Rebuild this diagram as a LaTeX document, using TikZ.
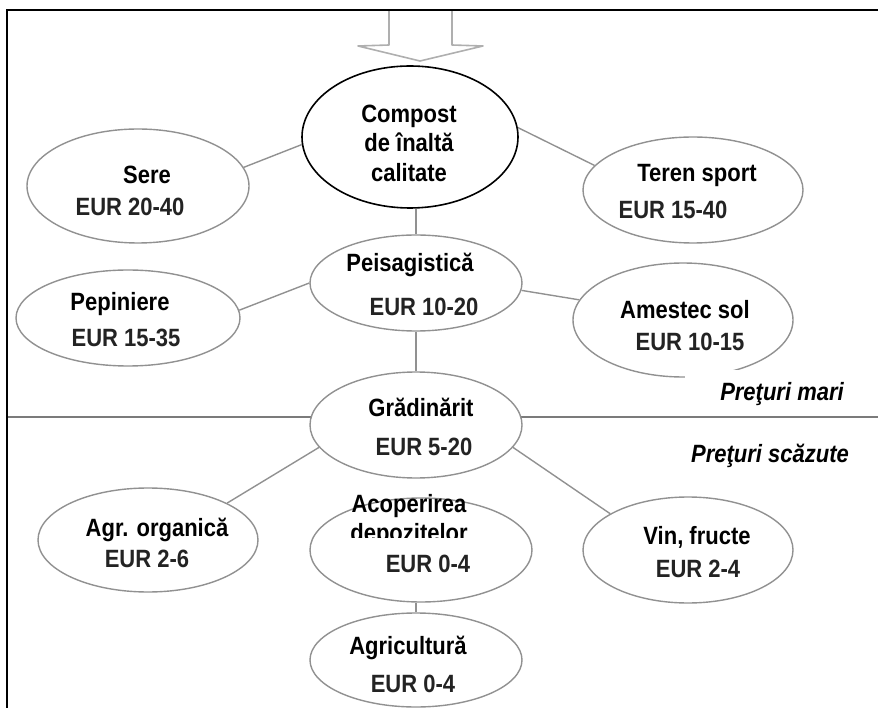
\documentclass[tikz,border=0pt]{standalone}
\usepackage{fontspec}
\setmainfont{Liberation Sans}[FakeStretch=0.88]
\usetikzlibrary{shapes.geometric}
\definecolor{rimgray}{RGB}{145,145,145}
\definecolor{arrowgray}{RGB}{175,175,175}
\definecolor{pricegray}{RGB}{35,35,35}
\begin{document}
\begin{tikzpicture}[x=1pt,y=-1pt,
    font=\fontsize{25}{29.5}\selectfont\bfseries,
    market/.style={ellipse,draw=rimgray,line width=1.4pt,fill=white,inner sep=0pt},
    link/.style={rimgray,line width=1.4pt},
    txt/.style={inner sep=0pt,text height=18pt,text depth=0pt},
    eur/.style={txt,text=pricegray},
    zone/.style={txt,font=\fontsize{25}{29.5}\selectfont\bfseries\itshape}]
  \useasboundingbox (0,0) rectangle (878,708);
  % Divider between price classes
  \draw[rimgray!85!black,line width=1.5pt] (7,417) -- (878,417);
  % Markets
  \foreach \n/\x/\y/\w/\h in {
    sere/138/186/222pt/114pt, teren/693/190/220pt/106pt,
    peis/416/283/212pt/96pt, pepin/128/318/224pt/96pt,
    amestec/683/320/220pt/114pt, grad/416/425/212pt/106pt,
    agrorg/148/540/220pt/104pt, acop/421/550/222pt/104pt,
    vin/688/550/210pt/106pt, agri/416/660/212pt/94pt}
    \node[market,minimum width=\w,minimum height=\h] (\n) at (\x,\y) {};
  \node[market,draw=black,line width=1.6pt,minimum width=216pt,minimum height=142pt]
    (compost) at (410,137) {};
  % Links
  \draw[link] (compost.184) -- (sere.10);
  \draw[link] (compost.5) -- (teren.166);
  \draw[link] (compost.south -| peis.north) -- (peis.north);
  \draw[link] (peis.180) -- (pepin.4);
  \draw[link] (peis.356) -- (amestec.169);
  \draw[link] (peis.south) -- (grad.north);
  \draw[link] (grad.193) -- (agrorg.25);
  \draw[link] (grad.347) -- (vin.155);
  \draw[link] (acop.south -| agri.north) -- (agri.north);
  % Texts
  \node[align=center,inner sep=0pt] (compostName) at (409,143) {Compost\\de înaltă\\calitate};
  \node[txt] (sereName) at (147,175) {Sere};
  \node[eur] (serePrice) at (130,207) {EUR 20-40};
  \node[txt] (terenName) at (697,173) {Teren sport};
  \node[eur] (terenPrice) at (673,210) {EUR 15-40};
  \node[txt] (peisName) at (410,263) {Peisagistică};
  \node[eur] (peisPrice) at (424,307) {EUR 10-20};
  \node[txt] (pepinName) at (120,302) {Pepiniere};
  \node[eur] (pepinPrice) at (126,338) {EUR 15-35};
  \node[txt] (amestecName) at (685,310) {Amestec sol};
  \node[eur] (amestecPrice) at (690,342) {EUR 10-15};
  \node[txt] (gradName) at (421,407) {Grădinărit};
  \node[eur] (gradPrice) at (424,446) {EUR 5-20};
  \node[txt] (agrorgName) at (157,527) {Agr. organică};
  \node[eur] (agrorgPrice) at (147,558) {EUR 2-6};
  \node[txt] (acopName) at (409,503) {Acoperirea};
  \node[txt] (acopName2) at (409,532) {depozitelor};
  \node[eur,fill=white,text height=34pt,minimum width=160pt] (acopPrice) at (428,555) {EUR 0-4};
  \node[txt] (vinName) at (697,535) {Vin, fructe};
  \node[eur] (vinPrice) at (698,568) {EUR 2-4};
  \node[txt] (agriName) at (408,645) {Agricultură};
  \node[eur] (agriPrice) at (413,683) {EUR 0-4};
  % Price classes
  \node[zone,fill=white,minimum width=194pt,minimum height=42pt] (highZone) at (782,391) {Preţuri mari};
  \node[zone] (lowZone) at (770,453) {Preţuri scăzute};
  % Input arrow and frame
  \draw[arrowgray,line width=1.6pt,line join=round]
    (389,10) -- (389,45) -- (358,46) -- (420,61) -- (483,46) -- (452,45) -- (452,10);
  \draw[line width=2.6pt] (7,708) -- (7,10) -- (878,10);
\end{tikzpicture}
\end{document}
